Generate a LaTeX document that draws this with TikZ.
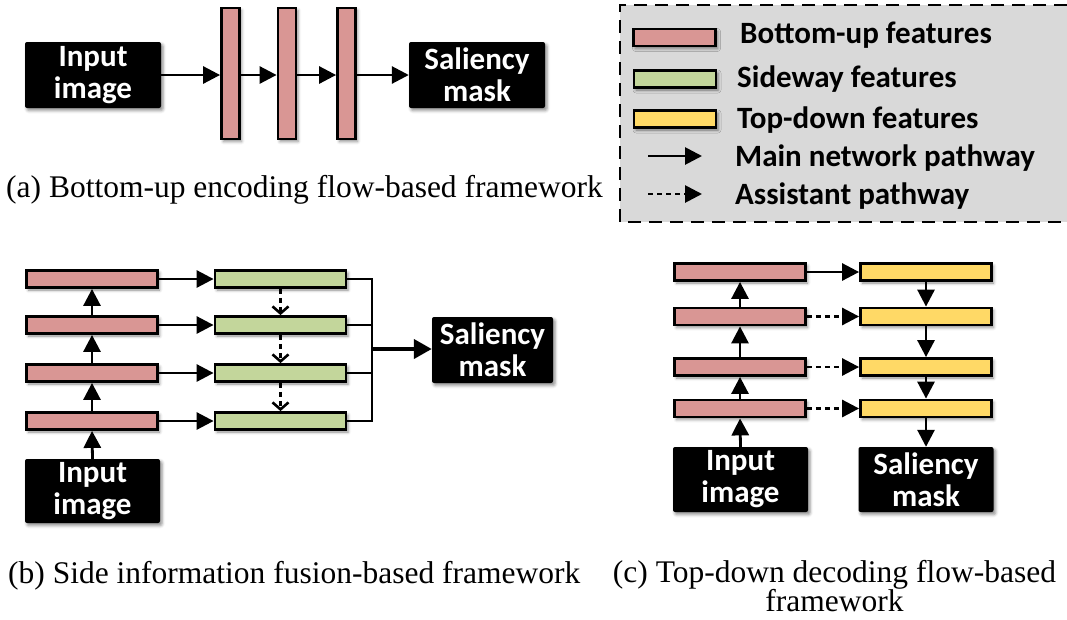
\documentclass[tikz,border=0pt]{standalone}
\usepackage{fontspec}
\setmainfont{Liberation Serif}
\newfontfamily\carl{Carlito}
\usetikzlibrary{arrows.meta,shadows.blur}
\definecolor{redfill}{HTML}{D99694}
\definecolor{greenfill}{HTML}{C3D69B}
\definecolor{yellowfill}{HTML}{FFD966}
\definecolor{legendgray}{HTML}{D9D9D9}
\tikzset{
  shad/.style={blur shadow={shadow xshift=2pt, shadow yshift=-2.5pt, shadow blur radius=3pt, shadow opacity=45}},
  bar/.style={draw=black, line width=2.8pt, rectangle, inner sep=0pt, shad},
  hbar/.style={bar, minimum width=131pt, minimum height=17pt},
  redbar/.style={hbar, fill=redfill},
  greenbar/.style={hbar, fill=greenfill},
  yellowbar/.style={hbar, fill=yellowfill},
  blk/.style={fill=black, text=white, rounded corners=2pt, inner sep=0pt, align=center,
    font=\carl\bfseries\fontsize{31}{32}\selectfont, minimum width=136pt, minimum height=66pt, shad},
  leg/.style={anchor=base west, inner sep=0pt, font=\carl\bfseries\fontsize{31}{32}\selectfont},
  captxt/.style={inner sep=0pt, font=\fontsize{31.5}{30}\selectfont},
  arr/.style={line width=2.8pt, -{Triangle[length=17pt,width=17pt]}},
  thickarr/.style={line width=4pt, -{Triangle[length=18pt,width=19pt]}},
  dasharr/.style={arr, dash pattern=on 5pt off 4pt},
  barbarr/.style={line width=2.6pt, dash pattern=on 5pt off 4pt, -{Straight Barb[length=7pt,width=16pt]}},
  plain/.style={line width=2.8pt},
}
\begin{document}
\begin{tikzpicture}[x=1pt,y=-1pt]
\path[use as bounding box] (0,0) rectangle (1067,619);

% ---------- (a) ----------
\node[blk] (ina) at (93,75) {Input\\image};
\node[bar, fill=redfill, minimum width=18pt, minimum height=131pt] (a1) at (230.5,73.5) {};
\node[bar, fill=redfill, minimum width=18pt, minimum height=131pt] (a2) at (287,73.5) {};
\node[bar, fill=redfill, minimum width=18pt, minimum height=131pt] (a3) at (346.5,73.5) {};
\node[blk] (sala) at (477,75) {Saliency\\mask};
\draw[arr] (ina.east) -- (a1.west |- ina.east);
\draw[arr] (a1.east |- ina.east) -- (a2.west |- ina.east);
\draw[arr] (a2.east |- ina.east) -- (a3.west |- ina.east);
\draw[arr] (a3.east |- ina.east) -- (sala.west);
\node[captxt, anchor=base west] (capa) at (6,197) {(a) Bottom-up encoding flow-based framework};

% ---------- legend ----------
\fill[legendgray] (620,5) rectangle (1067,222);
\draw[line width=2.8pt, dash pattern=on 13pt off 8pt] (1067,5) -- (620,5) -- (620,222) -- (1067,222);
\node[bar, fill=redfill, minimum width=82pt, minimum height=17pt] (l1) at (674.5,37.5) {};
\node[bar, fill=greenfill, minimum width=82pt, minimum height=17pt] (l2) at (675,79) {};
\node[bar, fill=yellowfill, minimum width=82pt, minimum height=17pt] (l3) at (675,119) {};
\node[leg] (t1) at (740,43) {Bottom-up features};
\node[leg] (t2) at (737,87) {Sideway features};
\node[leg] (t3) at (737,128) {Top-down features};
\node[leg] (t4) at (735,166) {Main network pathway};
\node[leg] (t5) at (735,204) {Assistant pathway};
\coordinate (m1) at (648,156);
\coordinate (m2) at (702,156);
\coordinate (d1) at (648,194);
\coordinate (d2) at (702,194);
\draw[arr] (m1) -- (m2);
\draw[dasharr] (d1) -- (d2);

% ---------- (b) ----------
\node[redbar] (b1) at (92,279) {};
\node[redbar] (b2) at (92,325) {};
\node[redbar] (b3) at (92,373) {};
\node[redbar] (b4) at (92,421) {};
\node[greenbar] (g1) at (280.5,279) {};
\node[greenbar] (g2) at (280.5,325) {};
\node[greenbar] (g3) at (280.5,373) {};
\node[greenbar] (g4) at (280.5,421) {};
\node[blk, minimum width=135pt, minimum height=64pt] (inb) at (92.5,491) {Input\\image};
\node[blk, minimum width=121pt, minimum height=66pt] (salb) at (492.5,350) {Saliency\\mask};
\draw[arr] (inb.north) -- (b4.south);
\draw[arr] (b4.north) -- (b3.south);
\draw[arr] (b3.north) -- (b2.south);
\draw[arr] (b2.north) -- (b1.south);
\draw[arr] (b1.east) -- (g1.west);
\draw[arr] (b2.east) -- (g2.west);
\draw[arr] (b3.east) -- (g3.west);
\draw[arr] (b4.east) -- (g4.west);
\draw[barbarr] (g1.south) -- (g2.north);
\draw[barbarr] (g2.south) -- (g3.north);
\draw[barbarr] (g3.south) -- (g4.north);
\coordinate (j4) at (372,421);
\coordinate (jm) at (372,349);
\draw[plain] (g1.east) -| (j4) -- (g4.east);
\draw[plain] (g2.east) -- (g2.east -| j4);
\draw[plain] (g3.east) -- (g3.east -| j4);
\draw[thickarr] (jm) -- (jm -| salb.west);
\node[captxt, anchor=base west] (capb) at (8,583) {(b) Side information fusion-based framework};

% ---------- (c) ----------
\node[redbar] (c1) at (740,272) {};
\node[redbar] (c2) at (740,316.5) {};
\node[redbar] (c3) at (740,367) {};
\node[redbar] (c4) at (740,408.5) {};
\node[yellowbar] (y1) at (926,272) {};
\node[yellowbar] (y2) at (926,316.5) {};
\node[yellowbar] (y3) at (926,367) {};
\node[yellowbar] (y4) at (926,408.5) {};
\node[blk, minimum width=135pt, minimum height=65pt] (inc) at (740.5,479.5) {Input\\image};
\node[blk, minimum width=135pt, minimum height=65pt] (salc) at (926,479.5) {Saliency\\mask};
\draw[arr] (inc.north) -- (c4.south);
\draw[arr] (c4.north) -- (c3.south);
\draw[arr] (c3.north) -- (c2.south);
\draw[arr] (c2.north) -- (c1.south);
\draw[arr] (c1.east) -- (y1.west);
\draw[dasharr] (c2.east) -- (y2.west);
\draw[dasharr] (c3.east) -- (y3.west);
\draw[dasharr] (c4.east) -- (y4.west);
\draw[arr] (y1.south) -- (y2.north);
\draw[arr] (y2.south) -- (y3.north);
\draw[arr] (y3.south) -- (y4.north);
\draw[arr] (y4.south) -- (salc.north);
\node[captxt, anchor=base] (capc1) at (834.5,582) {(c) Top-down decoding flow-based};
\node[captxt, anchor=base] (capc2) at (834.5,611) {framework};
\end{tikzpicture}
\end{document}
